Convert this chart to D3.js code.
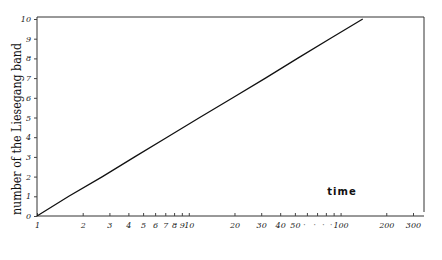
<!DOCTYPE html>
<html>
<head>
<meta charset="utf-8">
<script src="https://cdn.jsdelivr.net/npm/d3@7/dist/d3.min.js"></script>
<style>
  body { margin: 0; background: #fff; }
  svg { display: block; }
</style>
</head>
<body>
<div id="chart"></div>
<script>
// Data: time (log) at which each band appears
const bands = [0, 1, 2, 3, 4, 5, 6, 7, 8, 9, 10];
const times = [1, 1.62, 2.7, 4.4, 7.2, 11.8, 19.5, 32, 52, 85, 140];

// Axis ticks
const xTicks = [1, 2, 3, 4, 5, 6, 7, 8, 9, 10, 20, 30, 40, 50, 60, 70, 80, 90, 100, 200, 300];
const xDotted = [60, 70, 80, 90];
const yTicks = [0, 1, 2, 3, 4, 5, 6, 7, 8, 9, 10];

const W = 442, H = 260;
const frame = { left: 37, right: 424, top: 17, bottom: 216 };

const svg = d3.select("#chart").append("svg")
  .attr("width", W)
  .attr("height", H);

const x = d3.scaleLog().domain([1, 300]).range([frame.left, 413]);
const y = d3.scaleLinear().domain([0, 10]).range([frame.bottom, 19]);

// Frame (top and right sides)
svg.append("path")
  .attr("d", `M${frame.left},${frame.top}L${frame.right},${frame.top}L${frame.right},${frame.bottom - 4}`)
  .attr("fill", "none")
  .attr("stroke", "#333")
  .attr("stroke-width", 1);

// X axis
const xAxis = svg.append("g")
  .attr("transform", `translate(0,${frame.bottom})`)
  .call(d3.axisBottom(x)
    .tickValues(xTicks)
    .tickSize(-3)
    .tickPadding(6)
    .tickFormat(d => xDotted.includes(d) ? "·" : d));
xAxis.select(".domain")
  .attr("d", `M${frame.left},0H${frame.right}`)
  .attr("stroke", "#333");
xAxis.selectAll(".tick line").attr("stroke", "#444");
xAxis.selectAll(".tick text")
  .attr("font-family", "DejaVu Serif")
  .attr("font-style", "italic")
  .attr("font-size", 8)
  .attr("fill", "#222");
xAxis.selectAll(".tick text").filter(d => xDotted.includes(d))
  .attr("font-size", 9)
  .attr("font-style", "normal")
  .attr("dx", -3)
  .attr("fill", "#777");

// Y axis
const yAxis = svg.append("g")
  .attr("transform", `translate(${frame.left},0)`)
  .call(d3.axisLeft(y)
    .tickValues(yTicks)
    .tickSize(3)
    .tickPadding(3));
yAxis.select(".domain")
  .attr("d", `M0,${frame.bottom}V${frame.top}`)
  .attr("stroke", "#333");
yAxis.selectAll(".tick line").attr("stroke", "#444");
yAxis.selectAll(".tick text")
  .attr("font-family", "DejaVu Serif")
  .attr("font-style", "italic")
  .attr("font-size", 8)
  .attr("fill", "#222");

// Curve
const line = d3.line()
  .x((d, i) => x(times[i]))
  .y(d => y(d));
svg.append("path")
  .datum(bands)
  .attr("d", line)
  .attr("fill", "none")
  .attr("stroke", "#111")
  .attr("stroke-width", 1.3);

// Axis titles
svg.append("text")
  .attr("transform", "translate(21,129) rotate(-90)")
  .attr("text-anchor", "middle")
  .attr("font-family", "DejaVu Serif")
  .attr("font-size", 13)
  .attr("fill", "#111")
  .attr("textLength", 172)
  .attr("lengthAdjust", "spacingAndGlyphs")
  .text("number of the Liesegang band");

svg.append("text")
  .attr("x", 342)
  .attr("y", 195)
  .attr("text-anchor", "middle")
  .attr("font-family", "DejaVu Sans")
  .attr("font-weight", "bold")
  .attr("font-size", 10)
  .attr("letter-spacing", 1)
  .attr("fill", "#111")
  .text("time");
</script>
</body>
</html>
